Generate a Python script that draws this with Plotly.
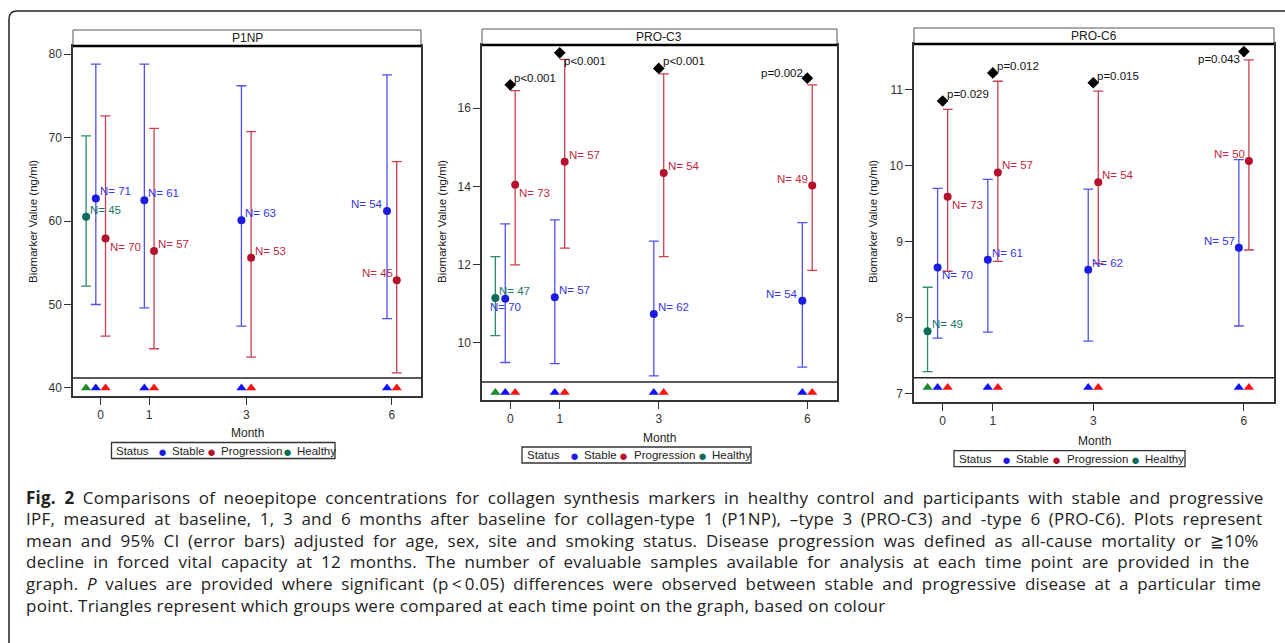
import plotly.graph_objects as go

W, H = 1285, 643

months = [0, 1, 3, 6]
month_labels = ["0", "1", "3", "6"]
panel_titles = ["P1NP", "PRO-C3", "PRO-C6"]
y_title = "Biomarker Value (ng/ml)"
x_title = "Month"
legend_title = "Status"
group_names = ["Stable", "Progression", "Healthy"]

# ---------------- P1NP ----------------
p1np_stable_mean = [62.7, 62.5, 60.1, 61.2]
p1np_stable_lo = [50.0, 49.6, 47.4, 48.3]
p1np_stable_hi = [78.8, 78.8, 76.2, 77.5]
p1np_stable_n = [71, 61, 63, 54]
p1np_prog_mean = [57.9, 56.4, 55.6, 52.9]
p1np_prog_lo = [46.2, 44.7, 43.7, 41.8]
p1np_prog_hi = [72.6, 71.1, 70.7, 67.1]
p1np_prog_n = [70, 57, 53, 45]
p1np_healthy_mean = [60.5]
p1np_healthy_lo = [52.2]
p1np_healthy_hi = [70.2]
p1np_healthy_n = [45]
p1np_p_y = []
p1np_p_text = []

# ---------------- PRO-C3 ----------------
c3_stable_mean = [11.12, 11.16, 10.73, 11.07]
c3_stable_lo = [9.49, 9.46, 9.15, 9.37]
c3_stable_hi = [13.04, 13.14, 12.60, 13.07]
c3_stable_n = [70, 57, 62, 54]
c3_prog_mean = [14.04, 14.63, 14.34, 14.02]
c3_prog_lo = [11.99, 12.42, 12.20, 11.85]
c3_prog_hi = [16.45, 17.25, 16.88, 16.60]
c3_prog_n = [73, 57, 54, 49]
c3_healthy_mean = [11.14]
c3_healthy_lo = [10.18]
c3_healthy_hi = [12.20]
c3_healthy_n = [47]
c3_p_y = [16.60, 17.42, 17.02, 16.77]
c3_p_text = ["p<0.001", "p<0.001", "p<0.001", "p=0.002"]

# ---------------- PRO-C6 ----------------
c6_stable_mean = [8.66, 8.76, 8.63, 8.92]
c6_stable_lo = [7.73, 7.81, 7.69, 7.89]
c6_stable_hi = [9.70, 9.82, 9.69, 10.08]
c6_stable_n = [70, 61, 62, 57]
c6_prog_mean = [9.59, 9.91, 9.78, 10.06]
c6_prog_lo = [8.61, 8.74, 8.71, 8.89]
c6_prog_hi = [10.74, 11.11, 10.98, 11.39]
c6_prog_n = [73, 57, 54, 50]
c6_healthy_mean = [7.82]
c6_healthy_lo = [7.29]
c6_healthy_hi = [8.40]
c6_healthy_n = [49]
c6_p_y = [10.85, 11.22, 11.09, 11.50]
c6_p_text = ["p=0.029", "p=0.012", "p=0.015", "p=0.043"]

caption_lines = [
    "<b>Fig. 2</b> Comparisons of neoepitope concentrations for collagen synthesis markers in healthy control and participants with stable and progressive",
    "IPF, measured at baseline, 1, 3 and 6 months after baseline for collagen-type 1 (P1NP), \u2013type 3 (PRO-C3) and -type 6 (PRO-C6). Plots represent",
    "mean and 95% CI (error bars) adjusted for age, sex, site and smoking status. Disease progression was defined as all-cause mortality or \u226710%",
    "decline in forced vital capacity at 12 months. The number of evaluable samples available for analysis at each time point are provided in the",
    "graph. <i>P</i> values are provided where significant (p\u2009<\u20090.05) differences were observed between stable and progressive disease at a particular time",
    "point. Triangles represent which groups were compared at each time point on the graph, based on colour",
]

# ---------------- styling / geometry ----------------
FONT = "Liberation Sans, Arial, sans-serif"
OFF = {"Stable": -0.1, "Progression": 0.1, "Healthy": -0.3}
MK = {"Stable": "#1c1ce0", "Progression": "#b3112c", "Healthy": "#0f6b58"}
EB = {"Stable": "#5050f0", "Progression": "#c8404f", "Healthy": "#2a8a72"}
TX = {"Stable": "#3535e0", "Progression": "#c02840", "Healthy": "#207a66"}
TRI = {"Stable": "#1010ff", "Progression": "#ff1010", "Healthy": "#1a8a2a"}
# label placement: (xanchor, xshift, yshift)
LP = {"tr": ("left", 3, 7), "br": ("left", 3, -8), "tl": ("right", -3, 7),
      "bl": ("right", -3, -7), "bc": ("center", 0, -8)}

panels = [
    dict(title=panel_titles[0], left=73, right=421, htop=30, ptop=46, bottom=396,
         yr=[39.04, 80.96], ticks=[40, 50, 60, 70, 80], sep=41.2, tri=40.0,
         ytx=33, month_y=432.7, leg=(111.5, 335, 450.5),
         groups=dict(
             Stable=(p1np_stable_mean, p1np_stable_lo, p1np_stable_hi, p1np_stable_n,
                     ["tr", "tr", "tr", "tl"]),
             Progression=(p1np_prog_mean, p1np_prog_lo, p1np_prog_hi, p1np_prog_n,
                          ["br", "tr", "tr", "tl"]),
             Healthy=(p1np_healthy_mean, p1np_healthy_lo, p1np_healthy_hi, p1np_healthy_n,
                      ["tr"])),
         p=(p1np_p_y, p1np_p_text, [])),
    dict(title=panel_titles[1], left=482, right=837, htop=29, ptop=45, bottom=400,
         yr=[8.53, 17.62], ticks=[10, 12, 14, 16], sep=8.99, tri=8.72,
         ytx=442, month_y=437.7, leg=(522, 751, 455),
         groups=dict(
             Stable=(c3_stable_mean, c3_stable_lo, c3_stable_hi, c3_stable_n,
                     ["bc", "tr", "tr", "tl"]),
             Progression=(c3_prog_mean, c3_prog_lo, c3_prog_hi, c3_prog_n,
                          ["br", "tr", "tr", "tl"]),
             Healthy=(c3_healthy_mean, c3_healthy_lo, c3_healthy_hi, c3_healthy_n,
                      ["tr"])),
         p=(c3_p_y, c3_p_text, ["tr", "br", "tr", "tl"])),
    dict(title=panel_titles[2], left=914, right=1274, htop=28, ptop=44, bottom=402,
         yr=[6.89, 11.6], ticks=[7, 8, 9, 10, 11], sep=7.21, tri=7.08,
         ytx=873, month_y=440.7, leg=(954, 1185, 458.7),
         groups=dict(
             Stable=(c6_stable_mean, c6_stable_lo, c6_stable_hi, c6_stable_n,
                     ["br", "tr", "tr", "tl"]),
             Progression=(c6_prog_mean, c6_prog_lo, c6_prog_hi, c6_prog_n,
                          ["br", "tr", "tr", "tl"]),
             Healthy=(c6_healthy_mean, c6_healthy_lo, c6_healthy_hi, c6_healthy_n,
                      ["tr"])),
         p=(c6_p_y, c6_p_text, ["tr", "tr", "tr", "bl"])),
]


def px(x):
    return x / W


def py(y):
    return 1 - y / H


fig = go.Figure()
shapes = []
annotations = []

for i, pnl in enumerate(panels):
    k = "" if i == 0 else str(i + 1)
    xa, ya = "x" + k, "y" + k
    # triangles (comparison markers)
    tri_x, tri_c = [], []
    for g in ["Healthy", "Stable", "Progression"]:
        mean = pnl["groups"][g][0]
        for j in range(len(mean)):
            tri_x.append(months[j] + OFF[g])
            tri_c.append(TRI[g])
    fig.add_trace(go.Scatter(x=tri_x, y=[pnl["tri"]] * len(tri_x), mode="markers",
                             marker=dict(symbol="triangle-up", size=9, color=tri_c),
                             xaxis=xa, yaxis=ya, hoverinfo="skip", cliponaxis=False))
    for g in group_names:
        mean, lo, hi, n, pos = pnl["groups"][g]
        xs = [months[j] + OFF[g] for j in range(len(mean))]
        fig.add_trace(go.Scatter(
            x=xs, y=mean, mode="markers",
            marker=dict(symbol="circle", size=8, color=MK[g]),
            error_y=dict(type="data", symmetric=False,
                         array=[h - m for h, m in zip(hi, mean)],
                         arrayminus=[m - l for m, l in zip(mean, lo)],
                         color=EB[g], thickness=1.3, width=5),
            xaxis=xa, yaxis=ya, name=g, cliponaxis=False))
        for xv, yv, nv, pc in zip(xs, mean, n, pos):
            xan, xs_, ys_ = LP[pc]
            annotations.append(dict(text="N= %d" % nv, x=xv, y=yv, xref=xa, yref=ya,
                                    xanchor=xan, yanchor="middle", xshift=xs_, yshift=ys_,
                                    showarrow=False, borderpad=0,
                                    font=dict(family=FONT, size=11.5, color=TX[g])))
    p_y, p_text, p_pos = pnl["p"]
    if p_y:
        fig.add_trace(go.Scatter(
            x=months[:len(p_y)], y=p_y, mode="markers",
            marker=dict(symbol="diamond", size=9, color="black"),
            xaxis=xa, yaxis=ya, cliponaxis=False))
        for j, (yv, tv, pc) in enumerate(zip(p_y, p_text, p_pos)):
            xan, xs_, ys_ = LP[pc]
            annotations.append(dict(text=tv, x=months[j], y=yv, xref=xa, yref=ya,
                                    xanchor=xan, yanchor="middle",
                                    xshift=xs_, yshift=ys_ - (2 if ys_ > 0 and xan == "right" else 0),
                                    showarrow=False, borderpad=0,
                                    font=dict(family=FONT, size=11.5, color="#111")))

    axis_common = dict(showgrid=False, zeroline=False, showline=True, mirror=True,
                       linecolor="#333", linewidth=1.5, ticks="outside", ticklen=7,
                       tickcolor="#333", tickwidth=1,
                       tickfont=dict(family=FONT, size=12, color="#333"))
    fig.layout["xaxis" + k] = dict(
        axis_common, domain=[px(pnl["left"]), px(pnl["right"])], range=[-0.57, 6.6],
        tickvals=months, ticktext=month_labels, anchor=ya)
    fig.layout["yaxis" + k] = dict(
        axis_common, domain=[py(pnl["bottom"]), py(pnl["ptop"])], range=pnl["yr"],
        tickvals=pnl["ticks"], anchor=xa)

    # header strip
    shapes.append(dict(type="rect", xref="paper", yref="paper",
                       x0=px(pnl["left"]), x1=px(pnl["right"]),
                       y0=py(pnl["ptop"]), y1=py(pnl["htop"]),
                       line=dict(color="#555", width=1), fillcolor="white"))
    shapes.append(dict(type="line", xref="paper", yref="paper",
                       x0=px(pnl["left"]), x1=px(pnl["right"]),
                       y0=py(pnl["ptop"]), y1=py(pnl["ptop"]),
                       line=dict(color="black", width=2.5)))
    annotations.append(dict(text=pnl["title"], xref="paper", yref="paper",
                            x=px((pnl["left"] + pnl["right"]) / 2),
                            y=py((pnl["htop"] + pnl["ptop"]) / 2),
                            xanchor="center", yanchor="middle", showarrow=False,
                            font=dict(family=FONT, size=12, color="#222")))
    # separator between plot and triangle strip
    shapes.append(dict(type="line", xref=xa + " domain", yref=ya,
                       x0=0, x1=1, y0=pnl["sep"], y1=pnl["sep"],
                       line=dict(color="#222", width=1.5)))
    # axis titles
    annotations.append(dict(text=x_title, xref="paper", yref="paper",
                            x=px((pnl["left"] + pnl["right"]) / 2), y=py(pnl["month_y"]),
                            xanchor="center", yanchor="middle", showarrow=False,
                            font=dict(family=FONT, size=12, color="#222")))
    annotations.append(dict(text=y_title, xref="paper", yref="paper",
                            x=px(pnl["ytx"]), y=py(222), textangle=-90,
                            xanchor="center", yanchor="middle", showarrow=False,
                            font=dict(family=FONT, size=11.5, color="#222")))
    # legend box
    l0, l1, ly = pnl["leg"]
    sc = (l1 - l0) / 223.5
    shapes.append(dict(type="rect", xref="paper", yref="paper",
                       x0=px(l0), x1=px(l1), y0=py(ly + 8), y1=py(ly - 8),
                       line=dict(color="#333", width=1.3)))
    items = [(legend_title, 3.5, "#222", False)]
    item_off = {"Stable": 51.0, "Progression": 99.5, "Healthy": 175.8}
    for g in group_names:
        items.append(("\u25cf", item_off[g], MK[g], True))
        items.append((g, item_off[g] + 8.5, "#222", False))
    for txt, off, col, is_dot in items:
        annotations.append(dict(text=txt, xref="paper", yref="paper",
                                x=px(l0 + off * sc), y=py(ly + (0.5 if is_dot else 0)),
                                xanchor="center" if is_dot else "left", yanchor="middle",
                                showarrow=False, borderpad=0,
                                font=dict(family=FONT, size=15 if is_dot else 11.5, color=col)))

# caption (justified with word spacing)
line_y = [497 + 21.6 * j for j in range(6)]
word_sp = [3.8, 3.8, 4.0, 4.1, 3.8, 0]
for t, yy, ws in zip(caption_lines, line_y, word_sp):
    if ws:
        txt = "<span style='letter-spacing:0.25px;word-spacing:%.1fpx'>%s</span>" % (ws, t)
    else:
        txt = "<span style='letter-spacing:0.25px'>%s</span>" % t
    annotations.append(dict(text=txt, xref="paper", yref="paper", x=px(24), y=py(yy),
                            xanchor="left", yanchor="middle", showarrow=False,
                            font=dict(family="Open Sans, sans-serif", size=17, color="#222")))

# outer frame
r = 8
frame = "M %f,%f L %f,%f Q %f,%f %f,%f L %f,%f" % (
    px(9), py(660), px(9), py(11 + r), px(9), py(11), px(9 + r), py(11), px(1300), py(11))
shapes.append(dict(type="path", xref="paper", yref="paper", path=frame,
                   line=dict(color="#222", width=1.5)))

fig.update_layout(width=W, height=H, margin=dict(l=0, r=0, t=0, b=0),
                  paper_bgcolor="white", plot_bgcolor="white", showlegend=False,
                  shapes=shapes, annotations=annotations)

fig.write_html("out.html", config={"displayModeBar": False},
               post_script="document.body.style.margin='0';document.body.style.overflow='hidden';")
